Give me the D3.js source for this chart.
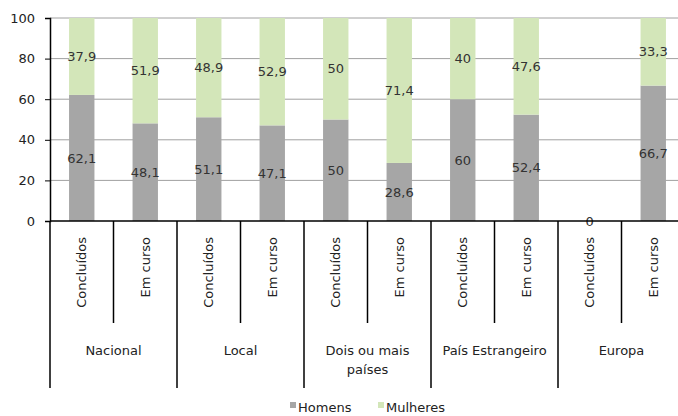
<!DOCTYPE html>
<html><head><meta charset="utf-8">
<script src="https://cdn.jsdelivr.net/npm/d3@7"></script>
<style>body{margin:0;background:#fff}svg{display:block}text{font-family:"DejaVu Sans",sans-serif}</style>
</head><body><svg id="c" width="678" height="416"></svg>
<script>
const groups = ["Nacional","Local","Dois ou mais países","País Estrangeiro","Europa"];
const subcats = ["Concluídos","Em curso"];
const homens = [62.1,48.1,51.1,47.1,50,28.6,60,52.4,0,66.7];
const mulheres = [37.9,51.9,48.9,52.9,50,71.4,40,47.6,null,33.3];
const yTicks = [0,20,40,60,80,100];
const seriesNames = ["Homens","Mulheres"];
const colors = ["#a6a6a6","#d3e6b9"];

(function(){
const svg = d3.select("#c");
const pLeft=50, pRight=685, pTop=18, pBottom=221;
const keys = d3.range(homens.length);
const x = d3.scaleBand().domain(keys).range([pLeft,pRight]).paddingInner(0.6).paddingOuter(0.3);
const slot = d3.scaleBand().domain(keys).range([pLeft,pRight]);
const y = d3.scaleLinear().domain([0,100]).range([pBottom,pTop]);
const fmt = v => String(v).replace(".",",");

svg.append("g").selectAll("line").data(yTicks.filter(t=>t>0)).join("line")
  .attr("x1",pLeft).attr("x2",pRight).attr("y1",d=>y(d)).attr("y2",d=>y(d))
  .attr("stroke","#a0a0a0").attr("stroke-width",1);

const stackData = keys.map(i=>({i, h:homens[i], m:mulheres[i]}));
const g = svg.append("g");
g.selectAll("rect.h").data(stackData).join("rect").attr("class","h")
  .attr("x",d=>x(d.i)).attr("width",x.bandwidth())
  .attr("y",d=>y(d.h)).attr("height",d=>y(0)-y(d.h)).attr("fill",colors[0]);
g.selectAll("rect.m").data(stackData.filter(d=>d.m!=null)).join("rect").attr("class","m")
  .attr("x",d=>x(d.i)).attr("width",x.bandwidth())
  .attr("y",d=>y(d.h+d.m)).attr("height",d=>y(d.h)-y(d.h+d.m)).attr("fill",colors[1]);
g.selectAll("text.h").data(stackData).join("text").attr("class","h")
  .attr("x",d=>x(d.i)+x.bandwidth()/2).attr("y",d=>y(d.h/2)).attr("dy","0.35em")
  .attr("text-anchor","middle").attr("font-size",13).attr("fill","#333").text(d=>fmt(d.h));
g.selectAll("text.m").data(stackData.filter(d=>d.m!=null)).join("text").attr("class","m")
  .attr("x",d=>x(d.i)+x.bandwidth()/2).attr("y",d=>y(d.h+d.m/2)).attr("dy","0.35em")
  .attr("text-anchor","middle").attr("font-size",13).attr("fill","#333").text(d=>fmt(d.m));

const ya = svg.append("g").attr("transform",`translate(${pLeft},0)`)
  .call(d3.axisLeft(y).tickValues(yTicks).tickSize(5).tickPadding(10));
ya.select(".domain").attr("stroke","#000").attr("stroke-width",1.5);
ya.selectAll(".tick line").attr("stroke","#000");
ya.selectAll("text").attr("font-size",13).attr("fill","#222").style("font-family","DejaVu Sans");

svg.append("line").attr("x1",pLeft).attr("x2",pRight).attr("y1",pBottom).attr("y2",pBottom)
  .attr("stroke","#000").attr("stroke-width",1.5);

svg.append("g").selectAll("line").data(keys.filter(i=>i%2===1)).join("line")
  .attr("x1",d=>slot(d)).attr("x2",d=>slot(d)).attr("y1",pBottom).attr("y2",323)
  .attr("stroke","#000").attr("stroke-width",1.5);
svg.append("g").selectAll("line").data(d3.range(groups.length)).join("line")
  .attr("x1",d=>slot(d*2)).attr("x2",d=>slot(d*2)).attr("y1",pBottom).attr("y2",388)
  .attr("stroke","#000").attr("stroke-width",1.5);

svg.append("g").selectAll("text").data(keys).join("text")
  .attr("transform",d=>`translate(${slot(d)+slot.bandwidth()/2},237) rotate(-90)`)
  .attr("text-anchor","end").attr("dy","0.35em").attr("font-size",13).attr("fill","#222")
  .text(d=>subcats[d%2]);

const gl = svg.append("g").selectAll("text").data(groups).join("text")
  .attr("x",(d,i)=>slot(i*2)+slot.bandwidth()).attr("y",350).attr("dy","0.35em")
  .attr("text-anchor","middle").attr("font-size",13).attr("fill","#222");
gl.each(function(d){
  const t=d3.select(this);
  if(d==="Dois ou mais países"){
    t.append("tspan").attr("x",t.attr("x")).text("Dois ou mais");
    t.append("tspan").attr("x",t.attr("x")).attr("dy","1.5em").text("países");
  } else t.text(d);
});

const legX=[290,378];
const lg = svg.append("g").selectAll("g").data(seriesNames).join("g")
  .attr("transform",(d,i)=>`translate(${legX[i]},408)`);
lg.append("rect").attr("x",0).attr("y",-6).attr("width",6).attr("height",6).attr("fill",(d,i)=>colors[i]);
lg.append("text").attr("x",8).attr("y",0).attr("dy","0.3em").attr("font-size",13).attr("fill","#222").text(d=>d);
})();
</script></body></html>
